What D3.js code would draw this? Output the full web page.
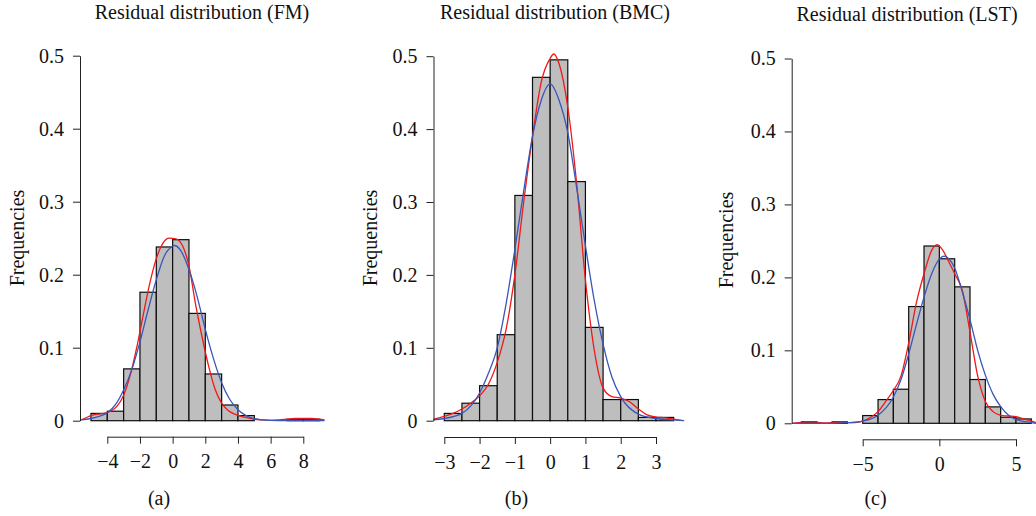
<!DOCTYPE html>
<html>
<head>
<meta charset="utf-8">
<script src="https://cdn.jsdelivr.net/npm/d3@7"></script>
<style>
  body { margin: 0; background: #fff; }
  svg text { font-family: "Liberation Serif", "DejaVu Serif", serif; fill: #111; }
</style>
</head>
<body>
<div id="chart"></div>
<script>
// bin edges and relative frequencies
var fmEdges = [-5, -4, -3, -2, -1, 0, 1, 2, 3, 4, 5, 6, 7, 8, 9];
var fmFreq = [0.010, 0.013, 0.071, 0.176, 0.238, 0.248, 0.147, 0.064, 0.0215, 0.007, 0, 0, 0.002, 0.002];

var bmcEdges = [-3, -2.5, -2, -1.5, -1, -0.5, 0, 0.5, 1, 1.5, 2, 2.5, 3, 3.5];
var bmcFreq = [0.010, 0.024, 0.048, 0.118, 0.309, 0.471, 0.495, 0.328, 0.128, 0.029, 0.029, 0.0045, 0.0045];

var lstEdges = [-9, -8, -7, -6, -5, -4, -3, -2, -1, 0, 1, 2, 3, 4, 5, 6];
var lstFreq = [0.002, 0, 0.002, 0, 0.0106, 0.0325, 0.0467, 0.160, 0.243, 0.2255, 0.187, 0.060, 0.0225, 0.0083, 0.006];

// density curves (red = kernel density, blue = normal fit), [x, y]
var fmKde = [[-5.6,0.001],[-5.3,0.004],[-5,0.007],[-4.6,0.009],[-4.2,0.01],[-3.8,0.013],[-3.4,0.02],[-3,0.035],
  [-2.6,0.062],[-2.2,0.1],[-1.8,0.145],[-1.4,0.188],[-1,0.222],[-0.6,0.243],[-0.2,0.25],[0.2,0.249],[0.6,0.24],
  [1,0.212],[1.4,0.16],[1.8,0.115],[2.2,0.075],[2.6,0.043],[3,0.024],[3.4,0.014],[3.8,0.009],[4.2,0.006],[4.6,0.004],
  [5,0.002],[5.5,0.001],[6,0.0005],[6.5,0.001],[7,0.002],[7.5,0.003],[8,0.003],[8.5,0.003],[9,0.002],[9.3,0.001]];
var fmNorm = [[-5.6,0.001],[-5,0.003],[-4.5,0.006],[-4,0.011],[-3.5,0.022],[-3,0.042],[-2.5,0.07],[-2,0.108],
  [-1.5,0.152],[-1,0.193],[-0.5,0.226],[0,0.239],[0.1,0.24],[0.5,0.233],[1,0.207],[1.5,0.17],[2,0.125],[2.5,0.085],
  [3,0.052],[3.5,0.029],[4,0.015],[4.5,0.007],[5,0.003],[6,0.0005],[7,0],[9.3,0]];

var bmcKde = [[-3.3,0.002],[-3,0.006],[-2.75,0.01],[-2.5,0.016],[-2.25,0.024],[-2,0.034],[-1.75,0.05],[-1.5,0.08],
  [-1.25,0.125],[-1,0.2],[-0.75,0.3],[-0.5,0.39],[-0.25,0.465],[0,0.497],[0.1,0.503],[0.25,0.49],[0.5,0.43],
  [0.75,0.326],[1,0.193],[1.25,0.097],[1.5,0.045],[1.75,0.033],[2,0.031],[2.25,0.026],[2.5,0.016],[2.75,0.008],
  [3,0.005],[3.25,0.004],[3.5,0.002],[3.75,0]];
var bmcNorm = [[-3.32,0.001],[-3,0.003],[-2.5,0.01],[-2,0.038],[-1.75,0.065],[-1.5,0.1],[-1.25,0.16],[-1,0.235],
  [-0.75,0.315],[-0.5,0.39],[-0.25,0.44],[0,0.462],[0.25,0.44],[0.5,0.395],[0.75,0.32],[1,0.24],[1.25,0.165],
  [1.5,0.105],[1.75,0.06],[2,0.033],[2.5,0.009],[3,0.003],[3.5,0.001],[3.8,0]];

var lstKde = [[-9.6,0],[-9.2,0.001],[-8.5,0.002],[-8,0.0015],[-7.5,0.0005],[-7,0.001],[-6.5,0.002],[-6,0.001],
  [-5.5,0.001],[-5,0.003],[-4.5,0.008],[-4,0.016],[-3.5,0.03],[-3,0.045],[-2.5,0.065],[-2,0.11],[-1.5,0.165],
  [-1,0.205],[-0.5,0.237],[-0.15,0.245],[0.2,0.238],[0.6,0.222],[1,0.205],[1.5,0.182],[2,0.125],[2.5,0.065],
  [3,0.03],[3.5,0.016],[4,0.011],[4.5,0.01],[5,0.009],[5.5,0.006],[6,0.003],[6.3,0.001]];
var lstNorm = [[-9.6,0],[-7,0],[-6,0.0008],[-5,0.003],[-4,0.011],[-3,0.036],[-2.5,0.06],[-2,0.095],[-1.5,0.135],
  [-1,0.173],[-0.5,0.205],[0,0.225],[0.3,0.229],[0.6,0.226],[1,0.213],[1.5,0.18],[2,0.142],[2.5,0.1],[3,0.066],
  [3.5,0.04],[4,0.023],[5,0.005],[6,0.001],[6.3,0]];

var titles = ["Residual distribution (FM)", "Residual distribution (BMC)", "Residual distribution (LST)"];
var captions = ["(a)", "(b)", "(c)"];
var yTicks = [0, 0.1, 0.2, 0.3, 0.4, 0.5];
var fmTicks = [-4, -2, 0, 2, 4, 6, 8];
var bmcTicks = [-3, -2, -1, 0, 1, 2, 3];
var lstTicks = [-5, 0, 5];

var width = 1036, height = 516;
var svg = d3.select("#chart").append("svg")
  .attr("width", width)
  .attr("height", height);

var panels = [
  { edges: fmEdges, freq: fmFreq, kde: fmKde, norm: fmNorm, ticks: fmTicks,
    xd: [-4, 8], xr: [107.3, 303.3], yr: [420.7, 55.7], yAxisX: 80, xAxisY: 436.7,
    titleX: 202, titleY: 19, capX: 159, ylabX: 23.5, ylabY: 238 },
  { edges: bmcEdges, freq: bmcFreq, kde: bmcKde, norm: bmcNorm, ticks: bmcTicks,
    xd: [-3, 3], xr: [444.3, 656], yr: [420.7, 56.2], yAxisX: 433.5, xAxisY: 437,
    titleX: 555, titleY: 19, capX: 516.5, ylabX: 376.5, ylabY: 238 },
  { edges: lstEdges, freq: lstFreq, kde: lstKde, norm: lstNorm, ticks: lstTicks,
    xd: [-5, 5], xr: [862.7, 1016], yr: [423.3, 58.5], yAxisX: 791.7, xAxisY: 439.3,
    titleX: 907, titleY: 20.5, capX: 875.5, ylabX: 733, ylabY: 240 }
];

function fmt(v) {
  return v < 0 ? "\u2212" + Math.abs(v) : String(v);
}

panels.forEach(function(p, i) {
  var x = d3.scaleLinear().domain(p.xd).range(p.xr);
  var y = d3.scaleLinear().domain([0, 0.5]).range(p.yr);
  var g = svg.append("g");

  var bins = p.freq.map(function(f, k) { return { x0: p.edges[k], x1: p.edges[k + 1], f: f }; });
  g.selectAll("rect")
    .data(bins)
    .enter()
    .append("rect")
    .attr("x", d => x(d.x0))
    .attr("y", d => y(d.f))
    .attr("width", d => x(d.x1) - x(d.x0))
    .attr("height", d => y(0) - y(d.f))
    .attr("fill", "#bebebe")
    .attr("stroke", "#0d0d0d")
    .attr("stroke-width", 1.2);

  var line = d3.line()
    .x(d => x(d[0]))
    .y(d => y(d[1]))
    .curve(d3.curveMonotoneX);
  g.append("path")
    .attr("d", line(p.kde))
    .attr("fill", "none")
    .attr("stroke", "#f01818")
    .attr("stroke-width", 1.3);
  g.append("path")
    .attr("d", line(p.norm))
    .attr("fill", "none")
    .attr("stroke", "#3a56b8")
    .attr("stroke-width", 1.3);

  // y axis
  var ya = g.append("g")
    .attr("transform", "translate(" + p.yAxisX + ",0)")
    .call(d3.axisLeft(y).tickValues(yTicks).tickSize(7).tickPadding(9).tickSizeOuter(0)
      .tickFormat(d => d === 0 ? "0" : d3.format(".1f")(d)));
  ya.select(".domain").attr("stroke", "#222");
  ya.selectAll(".tick line").attr("stroke", "#222");
  ya.selectAll("text").attr("font-size", 20);

  // x axis
  var xa = g.append("g")
    .attr("transform", "translate(0," + p.xAxisY + ")")
    .call(d3.axisBottom(x).tickValues(p.ticks).tickSize(7).tickPadding(10.5).tickSizeOuter(0).tickFormat(fmt));
  xa.select(".domain").attr("stroke", "#222");
  xa.selectAll(".tick line").attr("stroke", "#222");
  xa.selectAll("text").attr("font-size", 20);

  svg.append("text")
    .attr("x", p.titleX)
    .attr("y", p.titleY)
    .attr("text-anchor", "middle")
    .attr("font-size", 20)
    .text(titles[i]);

  svg.append("text")
    .attr("transform", "translate(" + p.ylabX + "," + p.ylabY + ") rotate(-90)")
    .attr("text-anchor", "middle")
    .attr("font-size", 20)
    .text("Frequencies");

  svg.append("text")
    .attr("x", p.capX)
    .attr("y", 505)
    .attr("text-anchor", "middle")
    .attr("font-size", 20)
    .text(captions[i]);
});
</script>
</body>
</html>
